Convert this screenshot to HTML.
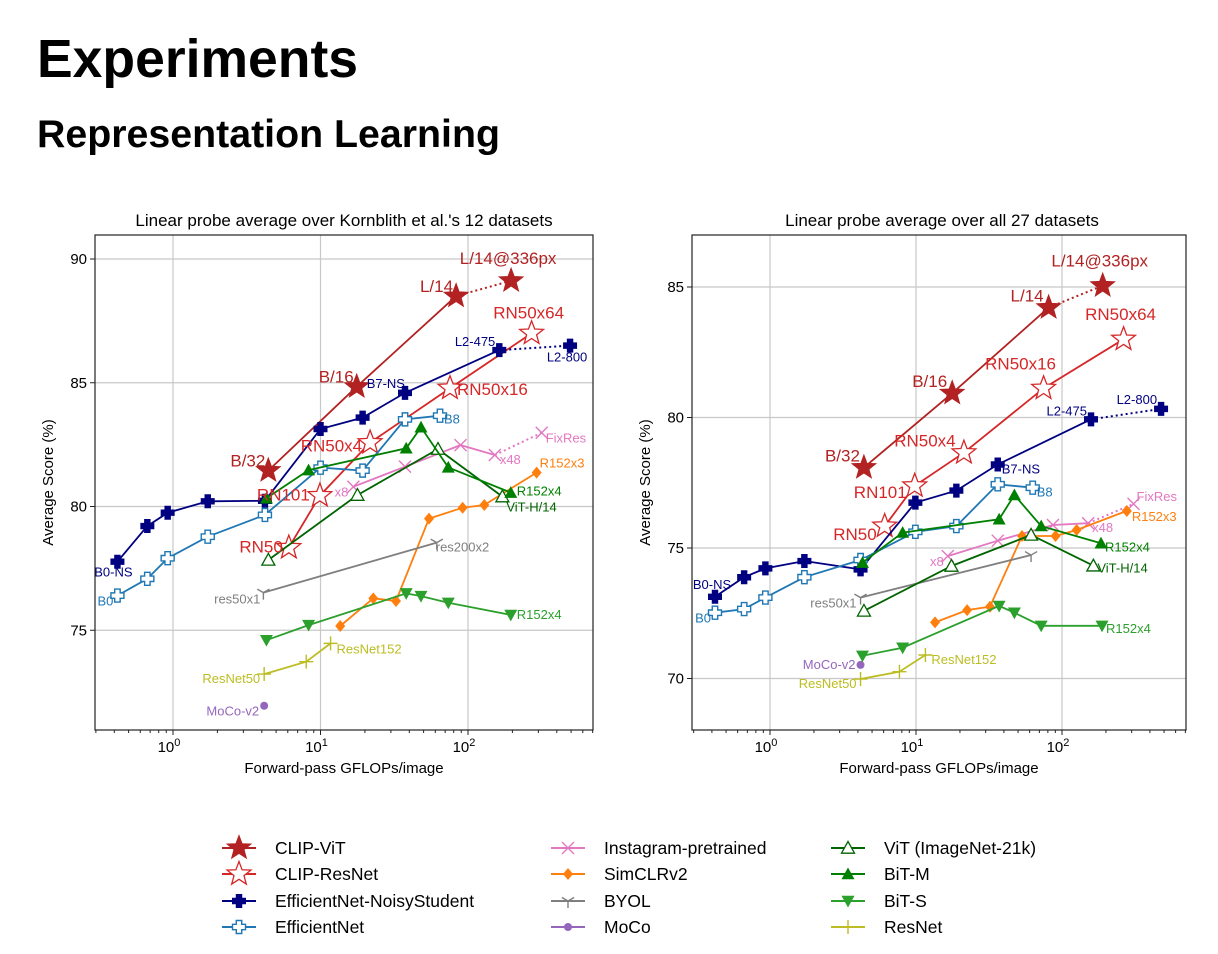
<!DOCTYPE html>
<html><head><meta charset="utf-8"><style>
html,body{margin:0;padding:0;background:#fff;}
svg{display:block;font-family:"Liberation Sans",sans-serif;}
</style></head><body>
<svg id="root" width="1218" height="954" viewBox="0 0 1218 954" xmlns="http://www.w3.org/2000/svg">
<text x="37" y="77" font-size="54" font-weight="bold" textLength="321" lengthAdjust="spacingAndGlyphs">Experiments</text>
<text x="37" y="147" font-size="39" font-weight="bold" textLength="463" lengthAdjust="spacingAndGlyphs">Representation Learning</text>
<g id="panels"></g>
<g id="legend"></g>
</svg>
<script>
// ---------- Left panel data (GFLOPs, score) ----------
const L_clipvit_x=[4.43,17.6,83,196], L_clipvit_y=[81.45,84.84,88.5,89.12];
const L_clipres_x=[6.1,9.9,21.7,75.5,270], L_clipres_y=[78.34,80.44,82.58,84.78,87.0];
const L_effns_x=[0.42,0.67,0.92,1.72,4.2,10,19.3,37.4,163,492], L_effns_y=[77.77,79.21,79.75,80.21,80.23,83.13,83.59,84.59,86.32,86.5];
const L_eff_x=[0.42,0.67,0.92,1.72,4.2,10,19.3,37.4,64.6], L_eff_y=[76.4,77.08,77.91,78.78,79.66,81.57,81.45,83.52,83.67];
const L_ig_x=[16.7,37.4,89,152,316], L_ig_y=[80.8,81.61,82.48,82.08,82.98];
const L_simclr_x=[13.6,22.8,32.5,54.4,92,129,292], L_simclr_y=[75.17,76.29,76.18,79.51,79.95,80.06,81.37];
const L_byol_x=[4.1,61.4], L_byol_y=[76.52,78.54];
const L_moco_x=[4.15], L_moco_y=[71.95];
const L_vit_x=[4.43,17.8,62.6,171], L_vit_y=[77.84,80.46,82.32,80.4];
const L_bitm_x=[4.3,8.3,38.1,48,73.5,195], L_bitm_y=[80.33,81.47,82.35,83.2,81.58,80.56];
const L_bits_x=[4.3,8.3,38.1,48,73.5,195], L_bits_y=[74.6,75.21,76.49,76.38,76.11,75.62];
const L_resnet_x=[4.15,8,11.7], L_resnet_y=[73.23,73.73,74.47];
// ---------- Right panel data ----------
const R_clipvit_x=[4.4,17.7,81,190], R_clipvit_y=[78.08,80.93,84.21,85.05];
const R_clipres_x=[6.1,9.8,21.3,74.8,264], R_clipres_y=[75.84,77.38,78.65,81.12,83.0];
const R_effns_x=[0.42,0.665,0.93,1.72,4.17,9.9,18.9,36.3,158,477], R_effns_y=[73.13,73.88,74.22,74.5,74.18,76.74,77.2,78.2,79.93,80.33];
const R_eff_x=[0.42,0.665,0.93,1.72,4.17,9.9,18.9,36.3,63], R_eff_y=[72.52,72.66,73.1,73.88,74.54,75.62,75.84,77.44,77.31];
const R_ig_x=[16.5,36.3,86.7,151,309], R_ig_y=[74.69,75.28,75.88,75.95,76.69];
const R_simclr_x=[13.5,22.4,32.1,53.2,90.3,126,278], R_simclr_y=[72.15,72.62,72.75,75.46,75.46,75.69,76.42];
const R_byol_x=[4.17,61.4], R_byol_y=[73.1,74.73];
const R_moco_x=[4.17], R_moco_y=[70.52];
const R_vit_x=[4.4,17.5,61.4,164], R_vit_y=[72.59,74.31,75.5,74.32];
const R_bitm_x=[4.3,8.1,37.1,47.2,72,185], R_bitm_y=[74.44,75.59,76.1,77.03,75.84,75.18];
const R_bits_x=[4.3,8.1,37.1,47.2,72,188], R_bits_y=[70.87,71.18,72.78,72.52,72.02,72.02];
const R_resnet_x=[4.17,7.7,11.6], R_resnet_y=[69.98,70.26,70.9];

const L_yticks=[75,80,85,90], R_yticks=[70,75,80,85];
const xtickExp=[0,1,2];
const legendLabels=["CLIP-ViT","CLIP-ResNet","EfficientNet-NoisyStudent","EfficientNet","Instagram-pretrained","SimCLRv2","BYOL","MoCo","ViT (ImageNet-21k)","BiT-M","BiT-S","ResNet"];

const NS="http://www.w3.org/2000/svg";
function mk(tag,attrs,parent){const e=document.createElementNS(NS,tag);for(const k in attrs)e.setAttribute(k,attrs[k]);if(parent)parent.appendChild(e);return e;}

const STY={
 clipvit:{c:"#b22222",m:"starF",s:12.5,dot:true},
 clipres:{c:"#d62728",m:"starO",s:12.5},
 effns:{c:"#000080",m:"plusF",s:6.5,dot:true},
 eff:{c:"#1f77b4",m:"plusO",s:6.5},
 ig:{c:"#e377c2",m:"x",s:6,dot:true},
 simclr:{c:"#ff7f0e",m:"diamond",s:5},
 byol:{c:"#7f7f7f",m:"tri1",s:7},
 moco:{c:"#9467bd",m:"circle",s:4},
 vit:{c:"#006400",m:"triUpO",s:6.5},
 bitm:{c:"#008000",m:"triUp",s:6.5},
 bits:{c:"#2ca02c",m:"triDown",s:6.5},
 resnet:{c:"#bcbd22",m:"plusThin",s:7}
};
const order=["clipvit","clipres","effns","eff","ig","simclr","byol","moco","vit","bitm","bits","resnet"];

function starPts(cx,cy,R){const r=R*0.42;let p=[];for(let i=0;i<10;i++){const a=-Math.PI/2+i*Math.PI/5;const rr=i%2?r:R;p.push((cx+rr*Math.cos(a)).toFixed(1)+","+(cy+rr*Math.sin(a)).toFixed(1));}return p.join(" ");}
function plusPath(cx,cy,s){const w=s*0.42;return `M${cx-w},${cy-s}H${cx+w}V${cy-w}H${cx+s}V${cy+w}H${cx+w}V${cy+s}H${cx-w}V${cy+w}H${cx-s}V${cy-w}H${cx-w}Z`;}
function marker(g,type,cx,cy,s,c){
 let e;
 switch(type){
 case "starF": e=mk("polygon",{points:starPts(cx,cy,s),fill:c,stroke:c,"stroke-width":1},g);break;
 case "starO": e=mk("polygon",{points:starPts(cx,cy,s),fill:"#fff",stroke:c,"stroke-width":1.3},g);break;
 case "plusF": e=mk("path",{d:plusPath(cx,cy,s),fill:c,stroke:c,"stroke-width":1},g);break;
 case "plusO": e=mk("path",{d:plusPath(cx,cy,s),fill:"#fff",stroke:c,"stroke-width":1.4},g);break;
 case "x": e=mk("path",{d:`M${cx-s},${cy-s}L${cx+s},${cy+s}M${cx-s},${cy+s}L${cx+s},${cy-s}`,stroke:c,"stroke-width":1.4,fill:"none"},g);break;
 case "diamond": e=mk("polygon",{points:`${cx},${cy-s*1.2} ${cx+s},${cy} ${cx},${cy+s*1.2} ${cx-s},${cy}`,fill:c},g);break;
 case "tri1": e=mk("path",{d:`M${cx},${cy}V${cy+s}M${cx},${cy}L${cx-s*0.87},${cy-s*0.5}M${cx},${cy}L${cx+s*0.87},${cy-s*0.5}`,stroke:c,"stroke-width":1.4,fill:"none"},g);break;
 case "circle": e=mk("circle",{cx:cx,cy:cy,r:s,fill:c},g);break;
 case "triUpO": e=mk("polygon",{points:`${cx},${cy-s} ${cx+s},${cy+s*0.8} ${cx-s},${cy+s*0.8}`,fill:"#fff",stroke:c,"stroke-width":1.3},g);break;
 case "triUp": e=mk("polygon",{points:`${cx},${cy-s} ${cx+s},${cy+s*0.8} ${cx-s},${cy+s*0.8}`,fill:c},g);break;
 case "triDown": e=mk("polygon",{points:`${cx},${cy+s} ${cx+s},${cy-s*0.8} ${cx-s},${cy-s*0.8}`,fill:c},g);break;
 case "plusThin": e=mk("path",{d:`M${cx-s},${cy}H${cx+s}M${cx},${cy-s}V${cy+s}`,stroke:c,"stroke-width":1.4,fill:"none"},g);break;
 }
 
 
 return e;
}

const panels=[
 {id:"L",title:"Linear probe average over Kornblith et al.'s 12 datasets",tx:344,box:[95,235,593,730],x0:173,dec:147.5,yRef:90,yRefPx:259,yUnit:24.75,yt:L_yticks,
  labels:[["clipvit",3,"L/14@336px","middle",-3,-17,17],["clipvit",2,"L/14","end",-3,-4,17],["clipvit",1,"B/16","end",-3,-4,17],["clipvit",0,"B/32","end",-3,-4,17],
  ["clipres",4,"RN50x64","middle",-3,-15,17],["clipres",3,"RN50x16","start",7,7,17],["clipres",2,"RN50x4","end",-8,9,17],["clipres",1,"RN101","end",-10,5,17],["clipres",0,"RN50","end",-6,5,17],
  ["effns",0,"B0-NS","middle",-4,15,13],["eff",0,"B0","end",-4,10,13],["effns",7,"B7-NS","end",0,-5,13],["effns",8,"L2-475","end",-4,-4,13],["effns",9,"L2-800","middle",-3,16,13],
  ["eff",8,"B8","start",4,8,13],["ig",4,"FixRes","start",4,10,13],["ig",3,"x48","start",5,9,13],["ig",0,"x8","end",-5,10,13],["simclr",6,"R152x3","start",3,-5,13],
  ["bitm",5,"R152x4","start",6,3,13],["vit",3,"ViT-H/14","start",4,15,13],["byol",1,"res200x2","start",-1,9,13],["byol",0,"res50x1","end",-3,11,13],
  ["bits",5,"R152x4","start",6,4,13],["resnet",2,"ResNet152","start",6,10,13],["resnet",0,"ResNet50","end",-4,9,13],["moco",0,"MoCo-v2","end",-5,10,13]],
  data:{clipvit:[L_clipvit_x,L_clipvit_y],clipres:[L_clipres_x,L_clipres_y],effns:[L_effns_x,L_effns_y],eff:[L_eff_x,L_eff_y],ig:[L_ig_x,L_ig_y],simclr:[L_simclr_x,L_simclr_y],byol:[L_byol_x,L_byol_y],moco:[L_moco_x,L_moco_y],vit:[L_vit_x,L_vit_y],bitm:[L_bitm_x,L_bitm_y],bits:[L_bits_x,L_bits_y],resnet:[L_resnet_x,L_resnet_y]}},
 {id:"R",title:"Linear probe average over all 27 datasets",tx:942,box:[692,235,1186,730],x0:770,dec:146,yRef:85,yRefPx:287,yUnit:26.1,yt:R_yticks,
  labels:[["clipvit",3,"L/14@336px","middle",-3,-19,17],["clipvit",2,"L/14","end",-5,-6,17],["clipvit",1,"B/16","end",-5,-6,17],["clipvit",0,"B/32","end",-4,-6,17],
  ["clipres",4,"RN50x64","middle",-3,-19,17],["clipres",3,"RN50x16","middle",-23,-19,17],["clipres",2,"RN50x4","middle",-39,-6,17],["clipres",1,"RN101","end",-8,12,17],["clipres",0,"RN50","end",-8,14,17],
  ["effns",0,"B0-NS","middle",-3,-8,13],["eff",0,"B0","end",-4,10,13],["effns",7,"B7-NS","start",4,9,13],["effns",8,"L2-475","end",-4,-4,13],["effns",9,"L2-800","end",-4,-5,13],
  ["eff",8,"B8","start",4,9,13],["ig",4,"FixRes","start",3,-3,13],["simclr",6,"R152x3","start",5,10,13],["ig",3,"x48","start",4,9,13],["ig",0,"x8","end",-4,10,13],
  ["bitm",5,"R152x4","start",4,8,13],["vit",3,"ViT-H/14","start",4,7,13],["byol",0,"res50x1","end",-4,10,13],["bits",5,"R152x4","start",4,7,13],
  ["resnet",2,"ResNet152","start",6,9,13],["resnet",0,"ResNet50","end",-4,9,13],["moco",0,"MoCo-v2","end",-5,4,13]],
  data:{clipvit:[R_clipvit_x,R_clipvit_y],clipres:[R_clipres_x,R_clipres_y],effns:[R_effns_x,R_effns_y],eff:[R_eff_x,R_eff_y],ig:[R_ig_x,R_ig_y],simclr:[R_simclr_x,R_simclr_y],byol:[R_byol_x,R_byol_y],moco:[R_moco_x,R_moco_y],vit:[R_vit_x,R_vit_y],bitm:[R_bitm_x,R_bitm_y],bits:[R_bits_x,R_bits_y],resnet:[R_resnet_x,R_resnet_y]}}
];

const root=document.getElementById('panels');
panels.forEach(P=>{
 const xs=g=>P.x0+P.dec*Math.log10(g);
 const ys=s=>P.yRefPx+(P.yRef-s)*P.yUnit;
 const [bl,bt,br,bb]=P.box;
 const g=mk("g",{},root);
 
 
 const t=mk("text",{x:P.tx,y:226,"font-size":17,"text-anchor":"middle"},g);t.textContent=P.title;
 
 
 mk("rect",{x:bl,y:bt,width:br-bl,height:bb-bt,fill:"#fff"},g);
 const gg=mk("g",{stroke:"#c8c8c8","stroke-width":1.2},g);
 
 
 xtickExp.forEach(e=>{const x=xs(Math.pow(10,e));mk("line",{x1:x,x2:x,y1:bt,y2:bb},gg);});
 P.yt.forEach(v=>{const y=ys(v);mk("line",{x1:bl,x2:br,y1:y,y2:y},gg);});
 order.forEach(k=>{
  const [X,Y]=P.data[k];const st=STY[k];
  const sg=mk("g",{},g);
  
  
  const n=X.length;
  const solidN=st.dot?n-1:n;
  if(solidN>1){let d="";for(let i=0;i<solidN;i++)d+=(i?"L":"M")+xs(X[i]).toFixed(1)+","+ys(Y[i]).toFixed(1);
   const pl=mk("path",{d:d,fill:"none",stroke:st.c,"stroke-width":1.8},sg);
   
   }
  if(st.dot&&n>1){const dl=mk("line",{x1:xs(X[n-2]),y1:ys(Y[n-2]),x2:xs(X[n-1]),y2:ys(Y[n-1]),stroke:st.c,"stroke-width":2,"stroke-dasharray":"2,3"},sg);
   
   }
  for(let i=0;i<n;i++)marker(sg,st.m,xs(X[i]),ys(Y[i]),st.s,st.c);
 });
 P.labels.forEach(L=>{
  const [k,i,txt,anc,dx,dy,fs]=L;const [X,Y]=P.data[k];
  const te=mk("text",{x:xs(X[i])+dx,y:ys(Y[i])+dy,"font-size":fs,"text-anchor":anc,fill:STY[k].c},g);
  te.textContent=txt;
  
  
 });
 mk("rect",{x:bl,y:bt,width:br-bl,height:bb-bt,fill:"none",stroke:"#222","stroke-width":1.2},g);
 P.yt.forEach(v=>{const y=ys(v);mk("line",{x1:bl-5,x2:bl,y1:y,y2:y,stroke:"#222"},g);
  const tl=mk("text",{x:bl-8,y:y+5,"font-size":15,"text-anchor":"end"},g);tl.textContent=v;
  
  });
 for(let e=-1;e<=3;e++){for(let m=1;m<10;m++){const v=m*Math.pow(10,e);const x=xs(v);if(x<bl||x>br)continue;
  mk("line",{x1:x,x2:x,y1:bb,y2:bb+(m===1?5:3),stroke:"#222"},g);}}
 xtickExp.forEach(e=>{const x=xs(Math.pow(10,e));
  const tl=mk("text",{x:x-4,y:bb+22,"font-size":15,"text-anchor":"middle"},g);
  
  
  tl.textContent="10";
  const sp=mk("tspan",{dy:-6,"font-size":11},tl);sp.textContent=e;});
 const xl=mk("text",{x:(bl+br)/2,y:773,"font-size":15,"text-anchor":"middle"},g);xl.textContent="Forward-pass GFLOPs/image";
 
 
 const yx=bl-42, yy=(bt+bb)/2;
 const yl=mk("text",{x:yx,y:yy,"font-size":15,"text-anchor":"middle",transform:`rotate(-90 ${yx} ${yy})`},g);yl.textContent="Average Score (%)";
 
 
});

const lg=document.getElementById('legend');
const colX=[222,551,831], rowY=[848,874,901,927];
order.forEach((k,i)=>{
 const c=Math.floor(i/4), r=i%4; const st=STY[k];
 const eg=mk("g",{},lg);
 
 
 const x=colX[c], y=rowY[r];
 mk("line",{x1:x,x2:x+34,y1:y,y2:y,stroke:st.c,"stroke-width":2},eg);
 marker(eg,st.m,x+17,y,st.s,st.c);
 const t=mk("text",{x:x+53,y:y+6,"font-size":17.5},eg);t.textContent=legendLabels[i];
});
</script>
</body></html>
